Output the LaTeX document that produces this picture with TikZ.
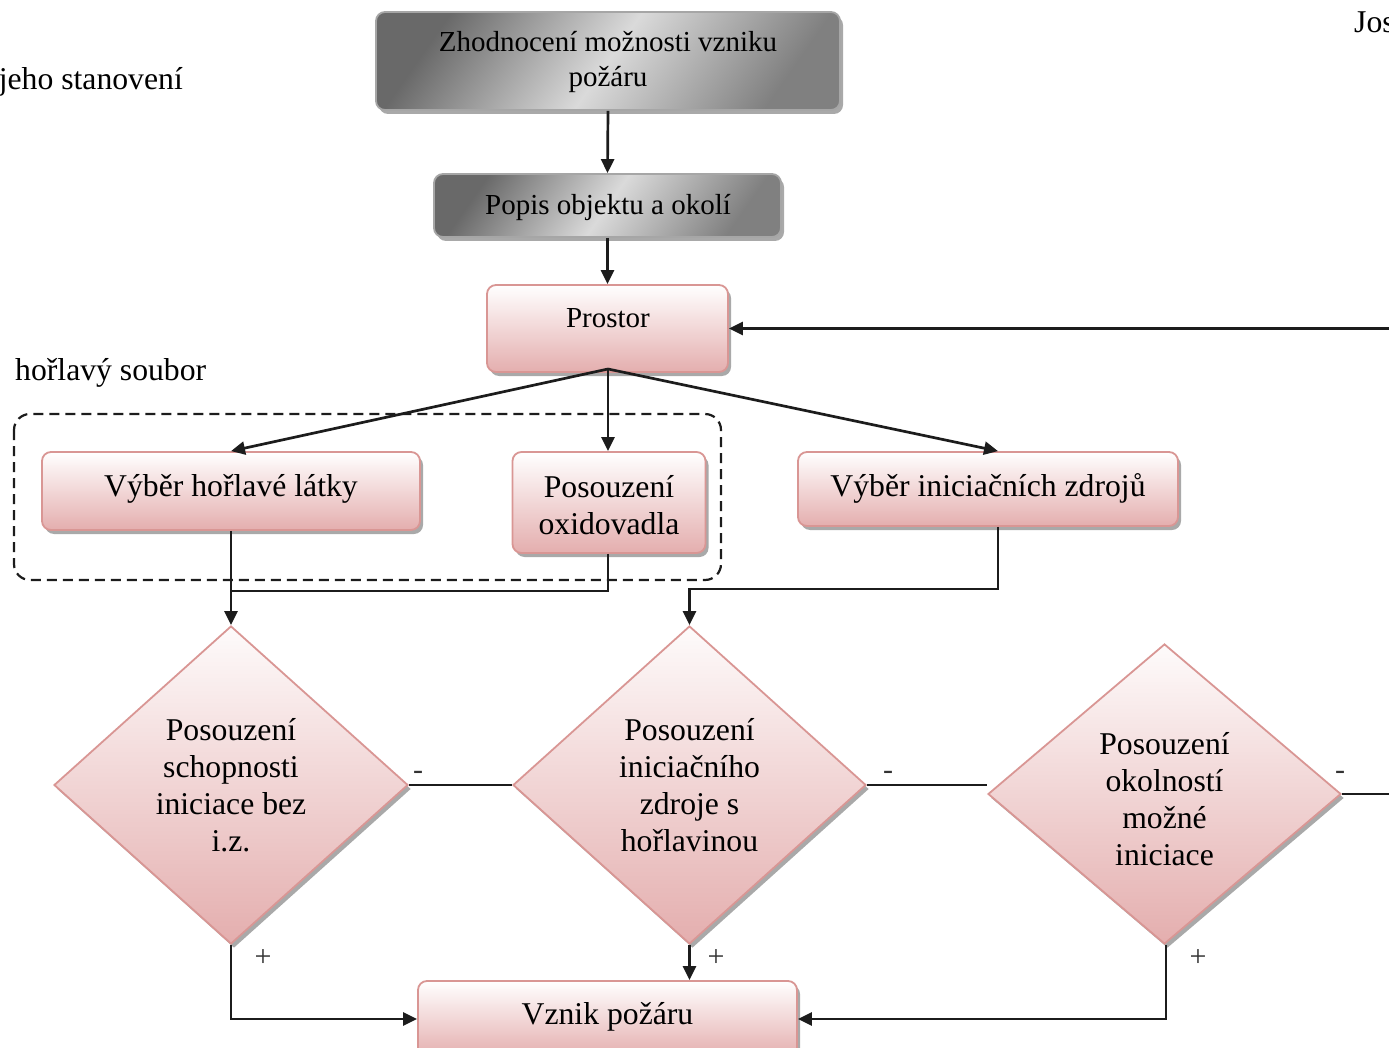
\documentclass[tikz,border=0pt]{standalone}
\usepackage{fontspec}
\setmainfont{Liberation Serif}
\usetikzlibrary{shapes.geometric,arrows.meta,shadows}
\definecolor{pinkB}{RGB}{228,174,174}
\definecolor{pinkD}{RGB}{217,150,148}
\definecolor{lineK}{RGB}{28,28,28}
\definecolor{grayD}{RGB}{105,105,105}
\definecolor{grayL}{RGB}{218,218,218}
\begin{document}
\begin{tikzpicture}[x=1pt,y=-1pt,
  shad/.style={drop shadow={shadow xshift=3pt,shadow yshift=-4pt,fill=black!45,opacity=0.75}},
  pinkbox/.style={draw=pinkD,line width=1.8pt,rounded corners=9pt,top color=white,bottom color=pinkB,shad,inner sep=0pt},
  graybox/.style={draw=black!35,line width=1.8pt,rounded corners=9pt,shading=axis,left color=grayD,right color=grayD!85,middle color=grayL,shading angle=55,shad,inner sep=0pt},
  dia/.style={diamond,draw=pinkD,line width=1.8pt,top color=white!95!pinkB,bottom color=pinkB,shad,inner sep=0pt,align=center,font=\fontsize{31.7}{37}\selectfont},
  txt/.style={font=\fontsize{31.7}{37}\selectfont,align=center,inner sep=0pt},
  gtxt/.style={font=\fontsize{29}{35}\selectfont,align=center,inner sep=0pt},
  conn/.style={draw=lineK,line width=2.7pt},
  arr/.style={conn,-{Triangle[length=14pt,width=13pt]}},
  sgn/.style={font=\fontsize{30}{34}\selectfont,inner sep=0pt,text=black!80}
]
\useasboundingbox (0,0) rectangle (1389,1048);

% side texts
\node[txt,anchor=east] (side1) at (183,82) {jeho stanovení};
\node[txt,anchor=west] (side2) at (1354,22) {Jos};
\node[txt,anchor=west] (side3) at (15,373) {hořlavý soubor};

% dashed group
\draw[draw=lineK,line width=2.2pt,dash pattern=on 10pt off 6pt,rounded corners=16pt] (14,414) rectangle (721,580);

% top gray boxes
\node[graybox,minimum width=464pt,minimum height=98pt] (b1) at (608,61) {};
\node[gtxt] (b1t) at (608,62) {Zhodnocení možnosti vzniku\\požáru};
\node[graybox,minimum width=347pt,minimum height=63pt] (b2) at (607.5,205.5) {};
\node[gtxt] (b2t) at (608,208) {Popis objektu a okolí};

% Prostor
\node[pinkbox,minimum width=241pt,minimum height=87pt] (pr) at (607.5,328.5) {};
\node[gtxt] (prt) at (608,318) {Prostor};

% second row
\node[pinkbox,minimum width=378pt,minimum height=78pt] (v1) at (231,491) {};
\node[txt] (v1t) at (231,488.5) {Výběr hořlavé látky};
\node[pinkbox,minimum width=193pt,minimum height=101pt] (ox) at (609,502.5) {};
\node[txt] (oxt) at (609,505) {Posouzení\\oxidovadla};
\node[pinkbox,minimum width=380pt,minimum height=74pt] (vi) at (988,489) {};
\node[txt] (vit) at (988,488) {Výběr iniciačních zdrojů};

% diamonds
\node[dia,minimum width=354pt,minimum height=318pt] (d1) at (231,785) {Posouzení\\schopnosti\\iniciace bez\\i.z.};
\node[dia,minimum width=353pt,minimum height=318pt] (d2) at (689.5,785) {Posouzení\\iniciačního\\zdroje s\\hořlavinou};
\node[dia,minimum width=353pt,minimum height=300pt] (d3) at (1164.5,794) {};
\node[txt] (d3t) at (1164.5,799) {Posouzení\\okolností\\možné\\iniciace};

% bottom box
\node[pinkbox,minimum width=379pt,minimum height=76pt] (vz) at (607.5,1019) {};
\node[txt] (vzt) at (607.5,1017) {Vznik požáru};

% coordinates
\coordinate (rin) at (1389,328.5);
\coordinate (ps) at (608,369);
\coordinate (j1) at (231,591);
\coordinate (k2) at (998,589);
\coordinate (rout) at (1389,795);

% connectors
\draw[arr] (b1.south) -- (b2.south |- b2.north);
\draw[arr] (b2.south) -- (pr.north);
\draw[arr] (rin) -- (pr.east);
\draw[arr] (ps) -- (v1.north);
\draw[arr] (ps) -- (ps |- ox.north);
\draw[arr] (ps) -- ([xshift=10pt]vi.north);
\draw[arr] (v1.south) -- (d1.north);
\draw[conn] (ps |- ox.south) |- (j1);
\draw[arr] ([xshift=10pt]vi.south) -- (k2) -| (d2.north);
\draw[conn] (d1.east) -- (d2.west);
\draw[conn] (d2.east) -- (d2.east -| d3.west);
\draw[conn] (d3.east) -- (d3.east -| rout);
\draw[arr] (d1.south) |- (vz.west);
\draw[arr] (d2.south) -- (d2.south |- vz.north);
\draw[arr] ([xshift=1.5pt]d3.south) |- (vz.east);

% signs
\node[sgn] (m1) at (418,775) {-};
\node[sgn] (m2) at (888,775) {-};
\node[sgn] (m3) at (1340,775) {-};
\node[sgn] (p1) at (263,958) {+};
\node[sgn] (p2) at (716,958) {+};
\node[sgn] (p3) at (1198,958) {+};
\end{tikzpicture}
\end{document}
